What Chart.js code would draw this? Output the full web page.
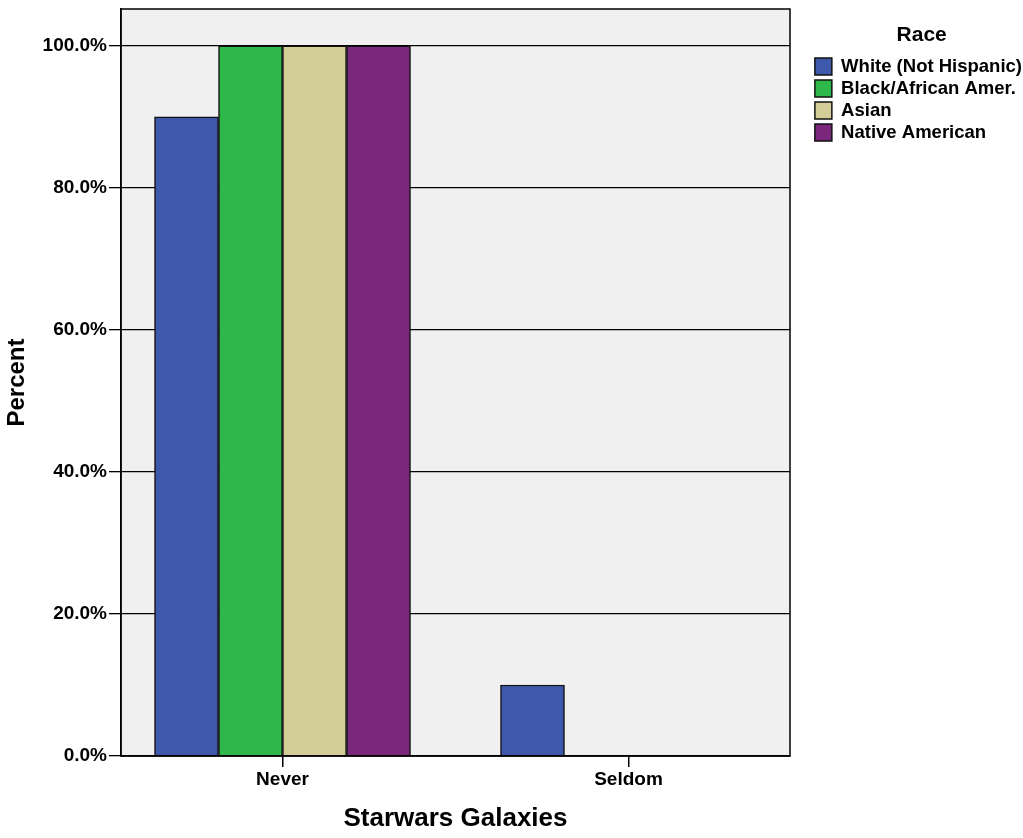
<!DOCTYPE html>
<html>
<head>
<meta charset="utf-8">
<script src="https://cdn.jsdelivr.net/npm/chart.js@4"></script>
<style>
    body { margin: 0; background: #ffffff; }
    canvas { display: block; }
</style>
</head>
<body>
<canvas id="myChart" width="1023" height="838"></canvas>
<script>
// Chart data
const categories = ['Never', 'Seldom'];
const seriesNames = ['White (Not Hispanic)', 'Black/African Amer.', 'Asian', 'Native American'];
const whiteValues = [90, 10];
const blackValues = [100, 0];
const asianValues = [100, 0];
const nativeValues = [100, 0];
const yTicks = [0, 20, 40, 60, 80, 100];

const FONT = "'Liberation Sans', Arial, sans-serif";
const colors = ['#3E58AC', '#2EB84A', '#D3CE97', '#7B287C'];
const LEGEND_SHIFT = 9;

// Turn a list of values into points on the category positions
function toPoints(values) {
    return values.map((v, i) => ({ x: i, y: v }));
}

// Plot background and frame
const plotFrame = {
    id: 'plotFrame',
    beforeDraw(chart) {
        const a = chart.chartArea;
        const ctx = chart.ctx;
        ctx.save();
        ctx.fillStyle = '#F0F0F0';
        ctx.fillRect(a.left, a.top, a.right - a.left, a.bottom - a.top);
        ctx.restore();
    },
    afterDatasetsDraw(chart) {
        const a = chart.chartArea;
        const ctx = chart.ctx;
        ctx.save();
        ctx.strokeStyle = '#000000';
        ctx.lineWidth = 1.5;
        ctx.strokeRect(a.left, a.top, a.right - a.left, a.bottom - a.top);
        ctx.restore();
    }
};

const allValues = [whiteValues, blackValues, asianValues, nativeValues];

const ctx = document.getElementById('myChart').getContext('2d');
new Chart(ctx, {
    type: 'bar',
    data: {
        datasets: seriesNames.map((name, i) => ({
            label: name,
            data: toPoints(allValues[i]),
            backgroundColor: colors[i],
            borderColor: '#111111',
            borderWidth: 1.5,
            barThickness: 64
        }))
    },
    options: {
        responsive: false,
        animation: false,
        layout: { padding: { top: 9, left: 0, right: -LEGEND_SHIFT, bottom: 0 } },
        plugins: {
            tooltip: { enabled: false },
            legend: {
                position: 'right',
                align: 'start',
                maxWidth: 260,
                title: {
                    display: true,
                    text: 'Race',
                    color: '#000000',
                    font: { family: FONT, size: 21, weight: 'bold' },
                    padding: { top: 15.5, bottom: 4 }
                },
                labels: {
                    color: '#000000',
                    font: { family: FONT, size: 18.5, weight: 'bold' },
                    boxWidth: 17,
                    boxHeight: 17,
                    padding: 3.5
                }
            }
        },
        scales: {
            x: {
                type: 'linear',
                offset: false,
                min: -0.4668,
                max: 1.4668,
                afterBuildTicks: scale => {
                    scale.ticks = categories.map((c, i) => ({ value: i }));
                },
                afterFit: scale => {
                    scale.height = 82;
                    scale.paddingLeft = 0;
                    scale.paddingRight = 0;
                },
                ticks: {
                    callback: value => categories[value],
                    color: '#000000',
                    font: { family: FONT, size: 19, weight: 'bold' },
                    padding: 1,
                    maxRotation: 0
                },
                grid: {
                    offset: false,
                    drawOnChartArea: false,
                    drawTicks: true,
                    tickLength: 11,
                    color: '#000000',
                    lineWidth: 1.5
                },
                border: { display: true, color: '#000000', width: 1.5 },
                title: {
                    display: true,
                    text: 'Starwars Galaxies',
                    color: '#000000',
                    font: { family: FONT, size: 26, weight: 'bold' },
                    padding: { top: 0, bottom: 3.5 }
                }
            },
            y: {
                min: 0,
                max: 105.2,
                afterBuildTicks: scale => {
                    scale.ticks = yTicks.map(v => ({ value: v }));
                },
                afterFit: scale => {
                    scale.width = 121;
                    scale.paddingTop = 0;
                    scale.paddingBottom = 0;
                },
                ticks: {
                    callback: value => value.toFixed(1) + '%',
                    color: '#000000',
                    font: { family: FONT, size: 19, weight: 'bold' },
                    padding: 2
                },
                grid: {
                    drawTicks: true,
                    tickLength: 12,
                    color: '#000000',
                    lineWidth: 1.3
                },
                border: { display: true, color: '#000000', width: 1.5 },
                title: {
                    display: true,
                    text: 'Percent',
                    color: '#000000',
                    font: { family: FONT, size: 24, weight: 'bold' },
                    padding: { top: 3, bottom: 0 }
                }
            },
            gap: {
                axis: 'y',
                type: 'linear',
                position: 'right',
                display: true,
                ticks: { display: false },
                grid: { display: false },
                border: { display: false },
                afterFit: scale => {
                    scale.width = Math.max(0, scale.chart.width + LEGEND_SHIFT - scale.chart.legend.width - 790);
                }
            }
        }
    },
    plugins: [plotFrame]
});
</script>
</body>
</html>
